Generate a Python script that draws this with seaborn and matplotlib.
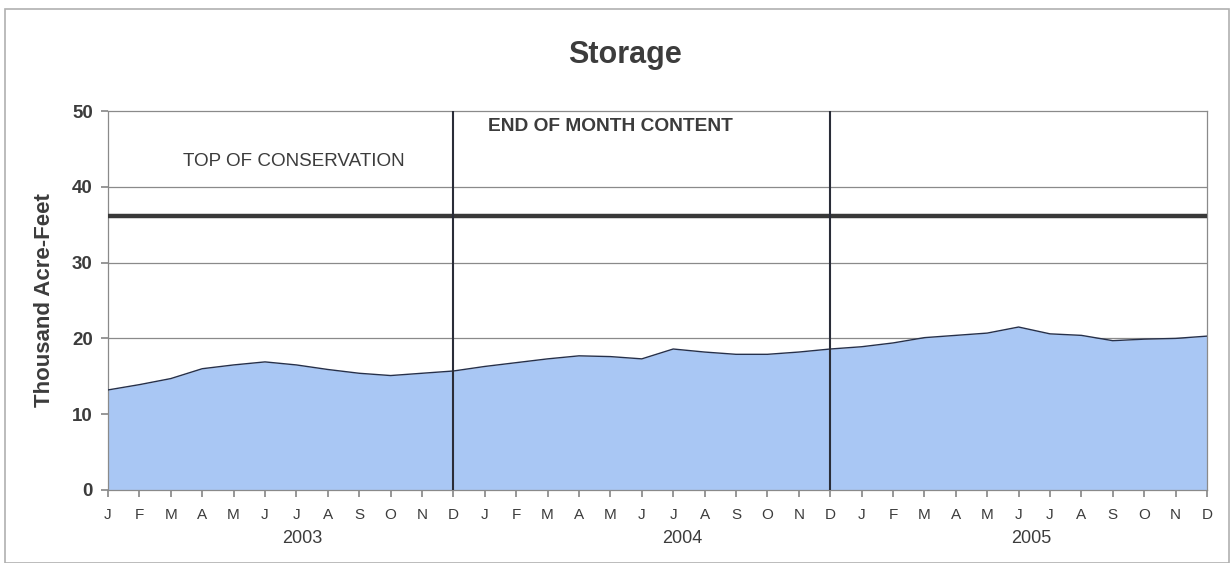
import numpy as np
import pandas as pd
import matplotlib
matplotlib.use("Agg")
import matplotlib.pyplot as plt
import seaborn as sns
from matplotlib.patches import Rectangle

# ---- data ----
month_labels = ["J", "F", "M", "A", "M", "J", "J", "A", "S", "O", "N", "D"]
years = ["2003", "2004", "2005"]
storage_2003 = [13.2, 13.9, 14.7, 16.0, 16.5, 16.9, 16.5, 15.9, 15.4, 15.1, 15.4, 15.7]
storage_2004 = [16.3, 16.8, 17.3, 17.7, 17.6, 17.3, 18.6, 18.2, 17.9, 17.9, 18.2, 18.6]
storage_2005 = [18.9, 19.4, 20.1, 20.4, 20.7, 21.5, 20.6, 20.4, 19.7, 19.9, 20.0, 20.3]
top_of_conservation = 36.2
y_ticks = [0, 10, 20, 30, 40, 50]

storage = storage_2003 + storage_2004 + storage_2005
df = pd.DataFrame({"idx": np.arange(len(storage)), "storage": storage})

sns.set_theme(style="white")
plt.rcParams["font.family"] = ["Liberation Sans", "DejaVu Sans"]

text_col = "#3c3c3c"
fig = plt.figure(figsize=(12.32, 5.63), dpi=100)
ax = fig.add_axes([108 / 1232, 1 - 490 / 563, (1207 - 108) / 1232, (490 - 111) / 563])

# fill + outline
ax.fill_between(df["idx"], 0, df["storage"], color="#a9c7f4", zorder=2, linewidth=0)
sns.lineplot(data=df, x="idx", y="storage", ax=ax, color="#26304a", linewidth=1.0, zorder=3)

# gridlines
for yv in y_ticks[1:-1]:
    ax.axhline(yv, color="#8a8a8a", linewidth=0.9, zorder=1)

# top of conservation
ax.axhline(top_of_conservation, color="#383838", linewidth=3.2, zorder=4)

# year separators (at December of 2003 and 2004)
for k in (1, 2):
    ax.axvline(12 * k - 1, color="#2a2d38", linewidth=1.5, zorder=5)

ax.set_xlim(0, len(storage) - 1)
ax.set_ylim(0, 50)
ax.set_yticks(y_ticks)
ax.set_yticklabels([str(v) for v in y_ticks], fontsize=13.5, fontweight="bold", color=text_col)
ax.set_xticks(np.arange(len(storage)))
ax.set_xticklabels(month_labels * len(years), fontsize=11, color=text_col)
ax.tick_params(axis="x", length=5, color="#8a8a8a", pad=8, bottom=True)
ax.tick_params(axis="y", length=5, color="#8a8a8a", pad=6, left=True)
ax.set_xlabel("")
ax.set_ylabel("Thousand Acre-Feet", fontsize=16, fontweight="bold", color=text_col, labelpad=12)

for side in ("left", "top", "right", "bottom"):
    ax.spines[side].set_visible(True)
    ax.spines[side].set_color("#8a8a8a")
    ax.spines[side].set_linewidth(0.9)

# year labels
year_pos = [6.2, 18.3, 29.4]
for yr, xp in zip(years, year_pos):
    ax.text(xp, -0.128, yr, transform=ax.get_xaxis_transform(), ha="center", va="center",
            fontsize=13, color=text_col)

# annotations
ax.text(2.4, 43.3, "TOP OF CONSERVATION", ha="left", va="center", fontsize=13.6, color=text_col)
ax.text(12.1, 47.9, "END OF MONTH CONTENT", ha="left", va="center", fontsize=13.8,
        fontweight="bold", color=text_col)

fig.text(625 / 1232, 1 - 55 / 563, "Storage", ha="center", va="center", fontsize=22,
         fontweight="bold", color=text_col)

# figure frame
fig.patches.append(Rectangle((5 / 1232, 0.0), 1 - 8 / 1232, 1 - 9 / 563, transform=fig.transFigure,
                             fill=False, edgecolor="#b0b0b0", linewidth=1.2))

fig.savefig("out.png", dpi=100, facecolor="white")
